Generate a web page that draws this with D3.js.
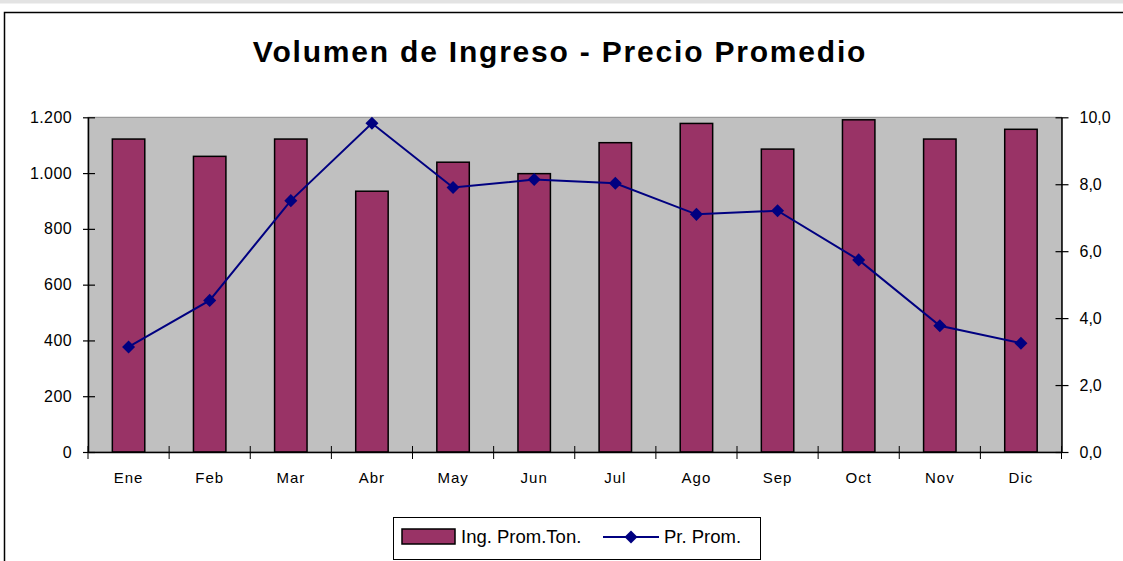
<!DOCTYPE html>
<html lang="es">
<head>
    <meta charset="UTF-8">
    <title>Volumen de Ingreso - Precio Promedio</title>
    <script src="https://d3js.org/d3.v7.min.js"></script>
    <style>
        body { margin: 0; background: #fff; }
        svg text { font-family: "Liberation Sans", Arial, sans-serif; }
    </style>
</head>
<body>
<svg width="1123" height="561"></svg>
<script type="text/javascript">

    // data
    var months = ["Ene", "Feb", "Mar", "Abr", "May", "Jun", "Jul", "Ago", "Sep", "Oct", "Nov", "Dic"];
    var ingreso = [1122, 1060, 1122, 935, 1039, 998, 1109, 1178, 1086, 1191, 1122, 1157];   // Ing. Prom.Ton.
    var precio = [3.14, 4.53, 7.51, 9.82, 7.90, 8.14, 8.03, 7.10, 7.21, 5.74, 3.77, 3.25];  // Pr. Prom.
    var leftTicks = [0, 200, 400, 600, 800, 1000, 1200];
    var rightTicks = [0, 2, 4, 6, 8, 10];

    var width = 1123;
    var height = 561;
    var svg = d3.select("svg");

    // plot area (note: "top" is taken by window.top, so use plot* names)
    var plotLeft = 88, plotRight = 1061.5, plotTop = 117.3, plotBottom = 452;

    // thin gray strip at the very top
    svg.append("rect")
        .attr("x", 0).attr("y", 0)
        .attr("width", width).attr("height", 3.5)
        .attr("fill", "#e3e3e3");

    // chart border (right and bottom are off the picture)
    svg.append("rect")
        .attr("x", 4.5).attr("y", 12.5)
        .attr("width", width + 20).attr("height", height + 20)
        .attr("fill", "#fff")
        .attr("stroke", "#000")
        .attr("stroke-width", 1.5);

    // title
    svg.append("text")
        .attr("x", 560).attr("y", 62)
        .attr("text-anchor", "middle")
        .style("font-size", "30px")
        .style("font-weight", "bold")
        .style("letter-spacing", "1.8px")
        .text("Volumen de Ingreso - Precio Promedio");

    var x = d3.scaleBand().domain(months).range([plotLeft, plotRight]);
    var yL = d3.scaleLinear().domain([0, 1200]).range([plotBottom, plotTop]);
    var yR = d3.scaleLinear().domain([0, 10]).range([plotBottom, plotTop]);

    // gray background
    svg.append("rect")
        .attr("x", plotLeft).attr("y", plotTop)
        .attr("width", plotRight - plotLeft).attr("height", plotBottom - plotTop)
        .attr("fill", "#c0c0c0")
        .attr("stroke", "#8c8c8c")
        .attr("stroke-width", 1);

    // bars
    var barW = x.bandwidth() * 0.4;
    svg.append("g").selectAll("rect")
        .data(ingreso)
        .enter().append("rect")
        .attr("x", function(d, i) { return x(months[i]) + (x.bandwidth() - barW) / 2; })
        .attr("y", function(d) { return yL(d); })
        .attr("width", barW)
        .attr("height", function(d) { return plotBottom - yL(d); })
        .attr("fill", "#993366")
        .attr("stroke", "#000")
        .attr("stroke-width", 1.5);

    // left axis
    var gL = svg.append("g")
        .attr("transform", "translate(" + plotLeft + ",0)")
        .call(d3.axisLeft(yL).tickValues(leftTicks)
            .tickFormat(function(d) { return d3.format(",")(d).replace(/,/g, "."); })
            .tickSizeOuter(0).tickPadding(10));
    gL.selectAll(".tick line").attr("x1", -5).attr("x2", 7);

    // right axis
    var gR = svg.append("g")
        .attr("transform", "translate(" + plotRight + ",0)")
        .call(d3.axisRight(yR).tickValues(rightTicks)
            .tickFormat(function(d) { return d3.format(".1f")(d).replace(".", ","); })
            .tickSizeOuter(0).tickPadding(12));
    gR.selectAll(".tick line").attr("x1", -6).attr("x2", 7);

    // bottom axis, ticks on category boundaries
    var gB = svg.append("g")
        .attr("transform", "translate(0," + plotBottom + ")")
        .call(d3.axisBottom(x).tickSize(0).tickPadding(20));
    gB.selectAll("line.bound")
        .data(d3.range(months.length + 1))
        .enter().append("line")
        .attr("class", "bound")
        .attr("x1", function(i) { return plotLeft + i * x.step(); })
        .attr("x2", function(i) { return plotLeft + i * x.step(); })
        .attr("y1", -6).attr("y2", 7)
        .attr("stroke", "#000");

    [gL, gR, gB].forEach(function(g) {
        g.select(".domain").attr("stroke", "#000").attr("stroke-width", 1.5);
        g.selectAll(".tick line").attr("stroke", "#000").attr("stroke-width", 1.2);
        g.selectAll("text").attr("fill", "#000").style("font-size", "16px")
            .style("font-family", "'Liberation Sans', Arial, sans-serif");
    });
    gL.selectAll(".tick text").style("letter-spacing", "0.4px");
    gB.selectAll(".tick text").style("font-size", "15px").style("letter-spacing", "1px");

    // price line
    var line = d3.line()
        .x(function(d, i) { return x(months[i]) + x.bandwidth() / 2; })
        .y(function(d) { return yR(d); });
    svg.append("path")
        .datum(precio)
        .attr("d", line)
        .attr("fill", "none")
        .attr("stroke", "#000080")
        .attr("stroke-width", 2);

    var diamond = d3.symbol().type(d3.symbolSquare).size(85);
    svg.append("g").selectAll("path")
        .data(precio)
        .enter().append("path")
        .attr("d", diamond)
        .attr("transform", function(d, i) {
            return "translate(" + (x(months[i]) + x.bandwidth() / 2) + "," + yR(d) + ") rotate(45)";
        })
        .attr("fill", "#000080");

    // legend
    var lg = svg.append("g");
    lg.append("rect")
        .attr("x", 393.5).attr("y", 517.5)
        .attr("width", 367).attr("height", 42)
        .attr("fill", "#fff").attr("stroke", "#000").attr("stroke-width", 1);
    lg.append("rect")
        .attr("x", 402).attr("y", 529)
        .attr("width", 53).attr("height", 15)
        .attr("fill", "#993366").attr("stroke", "#000").attr("stroke-width", 1.5);
    lg.append("text")
        .attr("x", 461).attr("y", 543)
        .style("font-size", "18.5px")
        .text("Ing. Prom.Ton.");
    lg.append("line")
        .attr("x1", 603).attr("x2", 659)
        .attr("y1", 537).attr("y2", 537)
        .attr("stroke", "#000080").attr("stroke-width", 2);
    lg.append("path")
        .attr("d", diamond)
        .attr("transform", "translate(631,537) rotate(45)")
        .attr("fill", "#000080");
    lg.append("text")
        .attr("x", 664).attr("y", 543)
        .style("font-size", "18.5px")
        .text("Pr. Prom.");

</script>
</body>
</html>
